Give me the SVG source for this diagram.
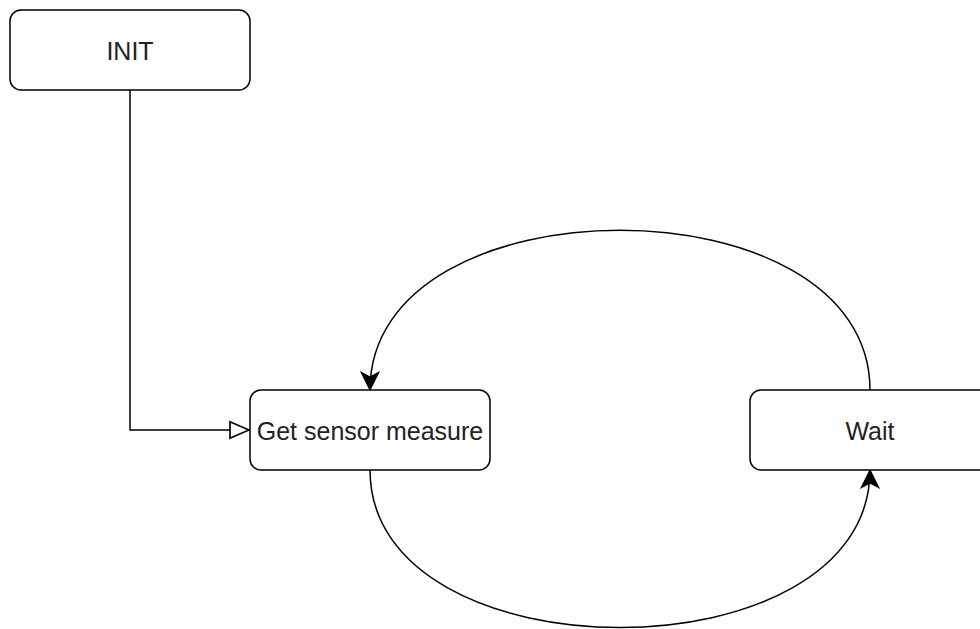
<svg xmlns="http://www.w3.org/2000/svg" width="980" height="629" viewBox="0 0 980 629">
<style>
.node rect{fill:#fff;stroke:#000;stroke-width:1.5}
.node text{font-family:"Liberation Sans",Arial,sans-serif;font-size:25px;fill:#222;text-anchor:middle}
.edge{fill:none;stroke:#000;stroke-width:1.5}
</style>
<defs>
<marker id="filled" markerUnits="userSpaceOnUse" markerWidth="20" markerHeight="20" viewBox="-16 -8 17 16" refX="0" refY="0" orient="auto">
<path d="M0,0 L-15,-7.5 L-11,0 L-15,7.5 Z" fill="#000" stroke="#000" stroke-width="1"/>
</marker>
<marker id="open" markerUnits="userSpaceOnUse" markerWidth="24" markerHeight="20" viewBox="-20 -9 21 18" refX="0" refY="0" orient="auto">
<path d="M-1,0 L-18,-7.5 L-18,7.5 Z" fill="#fff" stroke="#000" stroke-width="1.5"/>
</marker>
</defs>
<rect width="980" height="629" fill="#fff"/>
<g id="connectors">
<path class="edge" d="M130,90 L130,430 L250,430" marker-end="url(#open)"/>
<path class="edge" d="M870,390 C870,177 370,177 370,390" marker-end="url(#filled)"/>
<path class="edge" d="M370,470 C370,680 870,680 870,470" marker-end="url(#filled)"/>
</g>
<g id="init" class="node">
<rect x="10" y="10" width="240" height="80" rx="11"/>
<text x="130" y="60">INIT</text>
</g>
<g id="get-sensor-measure" class="node">
<rect x="250" y="390" width="240" height="80" rx="11"/>
<text x="370" y="440">Get sensor measure</text>
</g>
<g id="wait" class="node">
<rect x="750" y="390" width="240" height="80" rx="11"/>
<text x="870" y="440">Wait</text>
</g>
</svg>
